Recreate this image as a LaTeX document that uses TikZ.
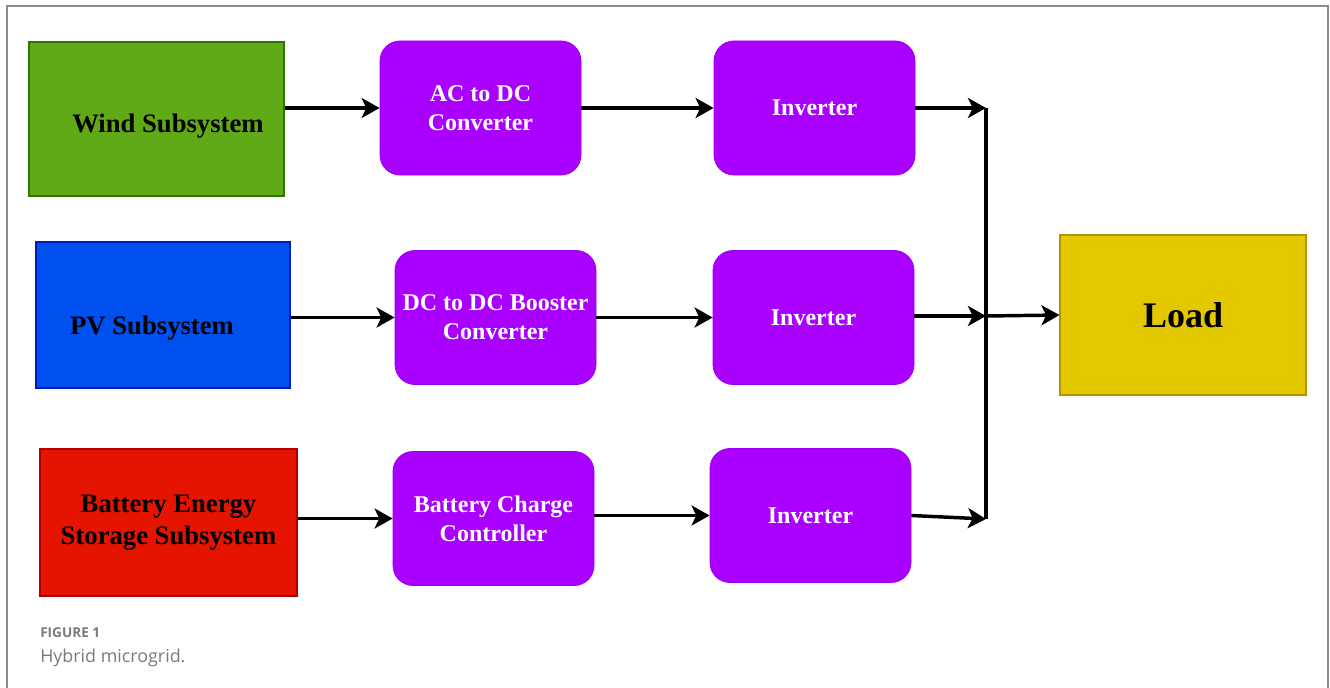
\documentclass[tikz,border=0pt]{standalone}
\usepackage{fontspec}
\setmainfont{Liberation Serif}
\newfontfamily\capfont{Open Sans}
\usepackage{xcolor}
\usepackage{tikz}
\usetikzlibrary{positioning, arrows.meta}

\tikzset{
  srcbox/.style={draw, line width=0.8pt, font=\fontsize{20}{24}\selectfont\bfseries, align=center},
  convbox/.style={draw=convEdge, fill=convFill, line width=0.6pt, rounded corners=15pt,
    minimum width=150.75pt, minimum height=100.5pt, text=white,
    font=\fontsize{18}{22}\selectfont\bfseries, align=center},
  flow/.style={line width=2.6pt, -{Stealth[length=13.5pt, width=15pt, inset=3.5pt]}},
}

\begin{document}
\begin{tikzpicture}[x=0.75pt, y=-0.75pt]

\definecolor{windFill}{HTML}{60A917}
\definecolor{windEdge}{HTML}{2D7600}
\definecolor{pvFill}{HTML}{0050EF}
\definecolor{pvEdge}{HTML}{001DBC}
\definecolor{batFill}{HTML}{E51400}
\definecolor{batEdge}{HTML}{B20000}
\definecolor{convFill}{HTML}{AA00FF}
\definecolor{convEdge}{HTML}{9A00EE}
\definecolor{loadFill}{HTML}{E3C800}
\definecolor{loadEdge}{HTML}{B09500}
\definecolor{frameGray}{HTML}{8C8C8C}
\definecolor{capGray}{HTML}{7A7A7A}

\useasboundingbox (0,0) rectangle (1330,688);

% page frame
\draw[frameGray, line width=1.5pt] (7,688) -- (7,6) -- (1328,6) -- (1328,688);

% ===== sources =====
\node[srcbox, draw=windEdge, fill=windFill, minimum width=191.25pt, minimum height=115.5pt,
  label={[font=\fontsize{20}{22}\selectfont\bfseries, xshift=8.6pt, yshift=-5.2pt]center:Wind Subsystem}]
  (wind) at (156.5,119) {};
\node[srcbox, draw=pvEdge, fill=pvFill, minimum width=190.5pt, minimum height=109.5pt,
  label={[font=\fontsize{20}{22}\selectfont\bfseries, xshift=-8.2pt, yshift=-9.8pt]center:PV Subsystem}]
  (pv) at (163,315) {};
\node[srcbox, draw=batEdge, fill=batFill, minimum width=192.75pt, minimum height=110.25pt]
  (bat) at (168.5,522.5) {Battery Energy\\Storage Subsystem};

% ===== converters =====
\node[convbox] (acdc)  at (480.5,108)   {AC to DC\\Converter};
\node[convbox] (boost) at (495.5,317.5) {DC to DC Booster\\Converter};
\node[convbox] (bcc)   at (493.5,518.5) {Battery Charge\\Controller};

% ===== inverters =====
\node[convbox] (inv1) at (814.5,108)   {Inverter};
\node[convbox] (inv2) at (813.5,317.5) {Inverter};
\node[convbox] (inv3) at (810.5,515.5) {Inverter};

% ===== load =====
\node[draw=loadEdge, fill=loadFill, line width=0.8pt, minimum width=184.5pt, minimum height=120pt,
  font=\fontsize{27}{30}\selectfont\bfseries] (load) at (1183,315) {\raisebox{-1.5pt}{Load}};

% ===== bus =====
\coordinate (busT) at (986,108);
\coordinate (busM) at (986,316);
\coordinate (busB) at (986,519);

% arrows
\draw[flow] (wind.east |- acdc.west) -- (acdc.west);
\draw[flow] (pv.east |- boost.west) -- (boost.west);
\draw[flow] (bat.east |- bcc.west) -- (bcc.west);
\draw[flow] (acdc.east) -- (inv1.west);
\draw[flow] (boost.east) -- (inv2.west);
\draw[flow] (bcc.east |- inv3.west) -- (inv3.west);
\draw[flow] (inv1.east) -- (busT);
\draw[flow] (inv2.east |- busM) -- (busM);
\draw[flow] (inv3.east) -- (busB);
\draw[line width=2.6pt] (busT) -- (busB);
\draw[flow] (busM) -- (load.west);

% caption
\node[anchor=base west, inner sep=0pt, text=capGray, font=\capfont\bfseries\fontsize{10.2}{12}\selectfont]
  (capnum) at (40,637) {FIGURE 1};
\node[anchor=base west, inner sep=0pt, text=capGray, font=\capfont\fontsize{13.4}{15}\selectfont]
  (captext) at (40,662) {Hybrid microgrid.};

\end{tikzpicture}
\end{document}
